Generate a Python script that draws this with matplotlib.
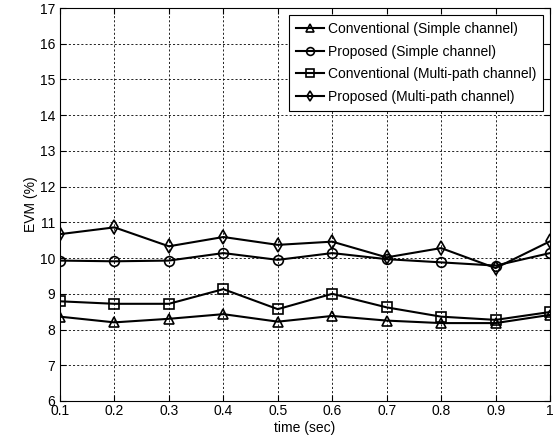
import matplotlib
matplotlib.use('Agg')
import matplotlib.pyplot as plt

plt.rcParams['font.family'] = ['Liberation Sans', 'DejaVu Sans']

time = [0.1, 0.2, 0.3, 0.4, 0.5, 0.6, 0.7, 0.8, 0.9, 1.0]
conv_simple = [8.36, 8.20, 8.30, 8.43, 8.22, 8.38, 8.25, 8.18, 8.18, 8.41]
prop_simple = [9.93, 9.91, 9.93, 10.14, 9.95, 10.14, 9.97, 9.88, 9.79, 10.14]
conv_multi = [8.79, 8.72, 8.72, 9.13, 8.57, 9.00, 8.62, 8.36, 8.27, 8.49]
prop_multi = [10.67, 10.86, 10.33, 10.59, 10.37, 10.46, 10.02, 10.28, 9.72, 10.47]

labels = ['Conventional (Simple channel)', 'Proposed (Simple channel)',
          'Conventional (Multi-path channel)', 'Proposed (Multi-path channel)']

fig = plt.figure(figsize=(5.58, 4.47), dpi=100)
ax = fig.add_axes([0.1075, 0.1030, 0.8782, 0.8790])

style = dict(color='black', linewidth=1.5, markerfacecolor='none',
             markeredgecolor='black', markersize=7, markeredgewidth=1.2)
ax.plot(time, conv_simple, marker='^', label=labels[0], **style)
ax.plot(time, prop_simple, marker='o', label=labels[1], **style)
ax.plot(time, conv_multi, marker='s', label=labels[2], **style)
ax.plot(time, prop_multi, marker='d', label=labels[3], **style)

ax.set_xlim(0.1, 1.0)
ax.set_ylim(6, 17)
ax.set_xticks(time)
ax.set_xticklabels(['0.1', '0.2', '0.3', '0.4', '0.5', '0.6', '0.7', '0.8', '0.9', '1'])
ax.set_yticks(range(6, 18))
ax.grid(True, color='black', linestyle=(0, (2.5, 2.5)), linewidth=0.6)
ax.tick_params(direction='in', top=True, right=True, labelsize=10, length=4)
ax.tick_params(axis='x', pad=2)
for s in ax.spines.values():
    s.set_linewidth(0.8)

ax.set_xlabel('time (sec)', fontsize=10, labelpad=2)
ax.set_ylabel('EVM (%)', fontsize=10, labelpad=1)

leg = ax.legend(loc='upper right', fontsize=10, frameon=True, fancybox=False,
                edgecolor='black', framealpha=1, handlelength=2.0,
                handletextpad=0.3, borderaxespad=0.5, labelspacing=0.62,
                borderpad=0.5, markerscale=0.8)
leg.get_frame().set_linewidth(0.8)

fig.savefig('out.png', dpi=100)
